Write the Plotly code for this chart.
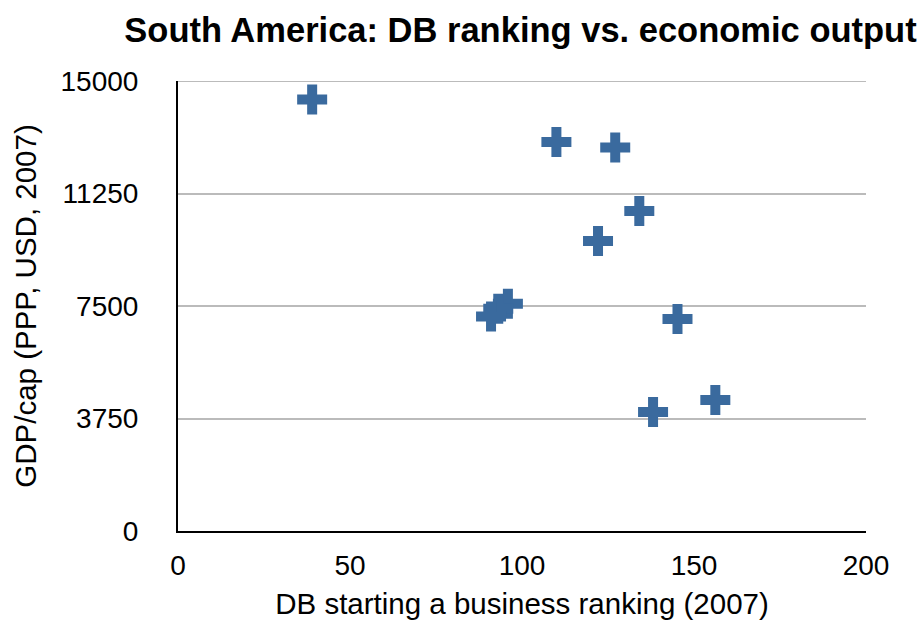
import plotly.graph_objects as go

# DB "starting a business" ranking (2007) and GDP per capita (PPP, USD, 2007)
db_rank = [39, 110, 127.1, 134.1, 122.1, 95.9, 93.1, 91.0, 145.2, 156.2, 138.1]
gdp_per_cap = [14380, 12970, 12780, 10670, 9670, 7575, 7410, 7150, 7070, 4370, 3970]

x_ticks = [0, 50, 100, 150, 200]
y_ticks = [0, 3750, 7500, 11250, 15000]

FONT = "Liberation Sans, Arial, Helvetica, sans-serif"
BLUE = "#3A6A9E"
GRID = "#BBBBBB"

fig = go.Figure(
    go.Scatter(
        x=db_rank,
        y=gdp_per_cap,
        mode="markers",
        marker=dict(symbol="cross", size=25, color=BLUE, line=dict(width=0)),
        hoverinfo="x+y",
    )
)

# gridline at the top of the value range (the axis edge is not drawn by the grid)
fig.add_shape(
    type="line", xref="paper", yref="y",
    x0=0, x1=1, y0=y_ticks[-1], y1=y_ticks[-1],
    line=dict(color=GRID, width=2), layer="below",
)

fig.update_layout(
    width=922,
    height=628,
    margin=dict(l=177.5, r=56, t=81, b=96.5),
    paper_bgcolor="white",
    plot_bgcolor="white",
    showlegend=False,
    font=dict(family=FONT, size=28, color="black"),
    title=dict(
        text="<b>South America: DB ranking vs. economic output</b>",
        font=dict(family=FONT, size=34.5, color="black"),
        x=(175 + 866) / 2 / 922,
        xanchor="center",
        xref="container",
        y=1 - 30 / 628,
        yanchor="middle",
        yref="container",
    ),
)

fig.update_xaxes(
    range=[0, 200],
    tickmode="array",
    tickvals=x_ticks,
    ticktext=[str(v) for v in x_ticks],
    tickfont=dict(size=28),
    showgrid=False,
    zeroline=False,
    showline=True,
    linecolor="black",
    linewidth=2,
    ticks="",
    ticklabelstandoff=8,
    title=dict(text="DB starting a business ranking (2007)", font=dict(family=FONT, size=29.5), standoff=14),
)

fig.update_yaxes(
    range=[0, 15000],
    tickmode="array",
    tickvals=y_ticks,
    ticktext=[str(v) for v in y_ticks],
    tickfont=dict(size=28),
    showgrid=True,
    gridcolor=GRID,
    gridwidth=2,
    zeroline=False,
    showline=True,
    linecolor="black",
    linewidth=2,
    ticks="",
    ticklabelstandoff=32,
    title=dict(text="GDP/cap (PPP, USD, 2007)", font=dict(family=FONT, size=29.5), standoff=15),
)

fig.write_html("out.html")
